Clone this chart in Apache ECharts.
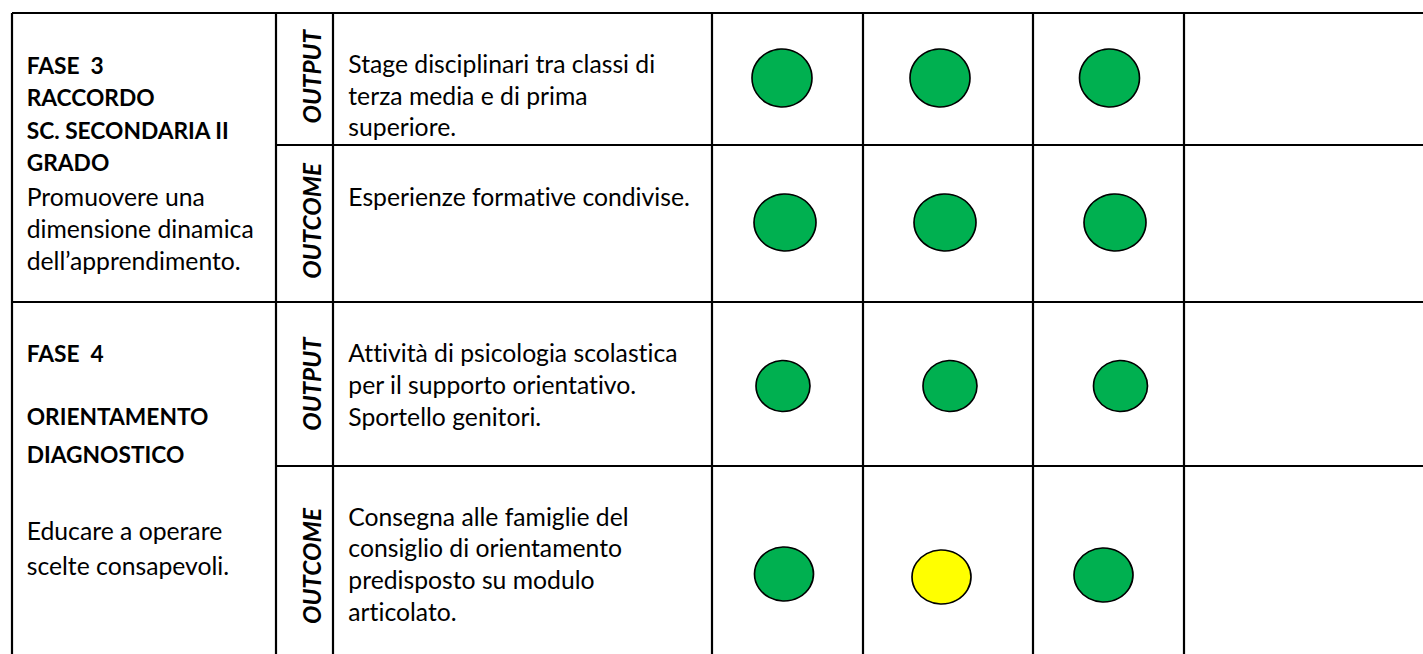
<!DOCTYPE html>
<html><head><meta charset="utf-8">
<script src="https://cdn.jsdelivr.net/npm/echarts@6/dist/echarts.min.js"></script>
<style>
html,body{margin:0;padding:0;background:#fff;}
#c{width:1423px;height:654px;}
#c svg text{font-variant-ligatures:none !important;font-feature-settings:"liga" 0,"clig" 0,"dlig" 0 !important;}
</style>
</head><body><div id="c"></div>
<script>
// ---------- DATA ----------
const phaseHeadings = [
  ["FASE  3", "RACCORDO", "SC. SECONDARIA II", "GRADO"],
  ["FASE  4", "ORIENTAMENTO", "DIAGNOSTICO"]
];
const phaseGoals = [
  ["Promuovere una", "dimensione dinamica", "dell\u2019apprendimento."],
  ["Educare a operare", "scelte consapevoli."]
];
const rowKinds = ["OUTPUT", "OUTCOME", "OUTPUT", "OUTCOME"];
const rowDescriptions = [
  ["Stage disciplinari tra classi di", "terza media e di prima", "superiore."],
  ["Esperienze formative condivise."],
  ["Attivit\u00e0 di psicologia scolastica", "per il supporto orientativo.", "Sportello genitori."],
  ["Consegna alle famiglie del", "consiglio di orientamento", "predisposto su modulo", "articolato."]
];
// status per row, for the three check columns
const rowStatus = [
  ["green", "green", "green"],
  ["green", "green", "green"],
  ["green", "green", "green"],
  ["green", "yellow", "green"]
];

// ---------- LAYOUT ----------
const W = 1423, H = 654;
const colX = [12, 276, 333, 712, 863, 1033, 1184];
const rowY = [13, 145, 302, 466, 654];
const phaseHeadingY = [[65.3, 97, 130, 162.5], [353.3, 416.7, 454.5]];
const phaseGoalY = [[196.5, 228.3, 260], [530, 565]];
const kindY = [76.7, 220.8, 384, 566];
const descFirstY = [63.3, 196.2, 352.7, 516.2];
const descPitch = 31.7;
const textLeft = 26.7, descLeft = 348.3, kindX = 311;
const dotNudge = [
  [[-5.5, -1], [-8, -1], [1, -1]],
  [[-2.5, -1], [-3, -1], [6.5, -1]],
  [[-4.5, 2], [2, 2], [12, 2]],
  [[-3.5, 14], [-6.5, 17], [-5, 15]]
];
const dotSize = [[60, 58], [62, 57], [54, 51], [59, 54]];
const statusColor = { green: "#00B050", yellow: "#FFFF00" };

// font sizes fitted to the reference widths
const FONT = "Lato";
function fit(str, weight, target) {
  const c = document.createElement("canvas").getContext("2d");
  c.font = weight + " 100px " + FONT;
  return 100 * target / c.measureText(str).width;
}
const regSize = fit("Stage disciplinari tra classi di", "normal", 307);
const boldSize = fit("SC. SECONDARIA II", "bold", 203);
const kindSize = fit("OUTCOME", "italic bold", 116);
const vOff = 0;

// ---------- BUILD ----------
const segs = [];
colX.forEach(x => segs.push([x, rowY[0], x, H]));
segs.push([colX[0], rowY[0], W, rowY[0]]);
segs.push([colX[1], rowY[1], W, rowY[1]]);
segs.push([colX[0], rowY[2], W, rowY[2]]);
segs.push([colX[1], rowY[3], W, rowY[3]]);

const texts = [];
phaseHeadings.forEach((lines, p) => lines.forEach((t, i) =>
  texts.push({ x: textLeft, y: phaseHeadingY[p][i], t, font: "bold " + boldSize + "px " + FONT, align: "left", rot: 0 })));
phaseGoals.forEach((lines, p) => lines.forEach((t, i) =>
  texts.push({ x: textLeft, y: phaseGoalY[p][i], t, font: regSize + "px " + FONT, align: "left", rot: 0 })));
rowKinds.forEach((t, r) =>
  texts.push({ x: kindX, y: kindY[r], t, font: "italic bold " + kindSize + "px " + FONT, align: "center", rot: Math.PI / 2 }));
rowDescriptions.forEach((lines, r) => lines.forEach((t, i) =>
  texts.push({ x: descLeft, y: descFirstY[r] + i * descPitch, t, font: regSize + "px " + FONT, align: "left", rot: 0 })));

const dots = [];
rowStatus.forEach((row, r) => row.forEach((s, c) => {
  const cx = (colX[3 + c] + colX[4 + c]) / 2 + dotNudge[r][c][0];
  const cy = (rowY[r] + rowY[r + 1]) / 2 + dotNudge[r][c][1];
  dots.push({ value: [cx, cy], symbolSize: dotSize[r], itemStyle: { color: statusColor[s] } });
}));

const chart = echarts.init(document.getElementById("c"), null, { renderer: "svg" });
chart.setOption({
  animation: false,
  backgroundColor: "#fff",
  grid: { left: 0, right: 0, top: 0, bottom: 0 },
  xAxis: { type: "value", min: 0, max: W, show: false },
  yAxis: { type: "value", min: 0, max: H, inverse: true, show: false },
  series: [
    {
      type: "custom", silent: true, clip: false,
      data: segs,
      renderItem: (params, api) => {
        const a = api.coord([api.value(0), api.value(1)]);
        const b = api.coord([api.value(2), api.value(3)]);
        return { type: "line", shape: { x1: a[0], y1: a[1], x2: b[0], y2: b[1] },
                 style: { stroke: "#000", lineWidth: 2.2 } };
      }
    },
    {
      type: "scatter", silent: true, symbol: "circle",
      itemStyle: { borderColor: "#000", borderWidth: 1.6, opacity: 1 },
      data: dots
    },
    {
      type: "custom", silent: true, clip: false,
      data: texts.map(o => [o.x, o.y]),
      renderItem: (params, api) => {
        const o = texts[params.dataIndex];
        const p = api.coord([api.value(0), api.value(1)]);
        return {
          type: "text", x: p[0] + (o.rot ? vOff : 0), y: p[1] + (o.rot ? 0 : vOff), rotation: o.rot,
          style: { text: o.t, font: o.font, fill: "#000", align: o.align, verticalAlign: "middle" }
        };
      }
    }
  ]
});
</script></body></html>
